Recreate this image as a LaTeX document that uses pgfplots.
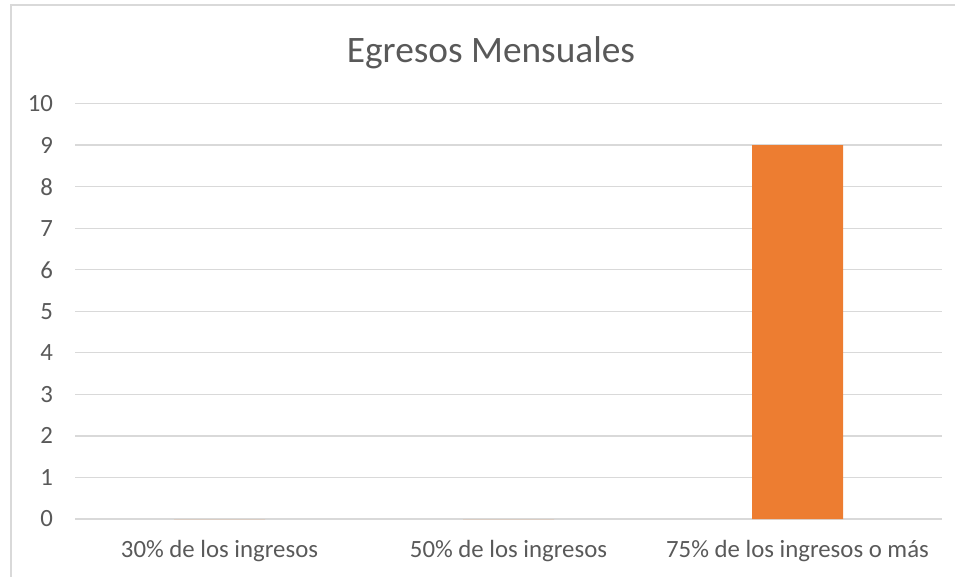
\documentclass[border=0pt]{standalone}
\usepackage{pgfplots}
\pgfplotsset{compat=1.18}
\usepackage{fontspec}
\setmainfont{Carlito}
\definecolor{txtgray}{HTML}{595959}
\definecolor{gridgray}{HTML}{D9D9D9}
\definecolor{barorange}{HTML}{ED7D31}

\begin{document}
\begin{tikzpicture}
% 1 px of the reference = 0.75pt
\path[use as bounding box] (0pt,0pt) rectangle (719.25pt,-432.75pt);
\draw[gridgray,line width=0.9pt] (8.25pt,-432.75pt) -- (8.25pt,-3.75pt) -- (716.25pt,-3.75pt);
\node[anchor=base,text=txtgray,font=\fontsize{28}{34}\selectfont] at (368.25pt,-47.25pt) {Egresos Mensuales};
\begin{axis}[
  at={(56.25pt,-389.25pt)},anchor=south west,
  scale only axis,width=650.25pt,height=311.6pt,
  ybar,bar width=68.25pt,
  xmin=-0.5,xmax=2.5,ymin=0,ymax=10,
  xtick={0,1,2},
  xticklabels={30\% de los ingresos,50\% de los ingresos,75\% de los ingresos o más},
  ytick={0,1,...,10},
  axis line style={draw=none},
  major tick length=0pt,
  ymajorgrids=true,
  grid style={gridgray,line width=0.9pt},
  tick label style={text=txtgray,font=\fontsize{18.6}{22}\selectfont},
  /pgf/number format/assume math mode=true,
  yticklabel style={anchor=east},
  yticklabel shift=13pt,
  xticklabel shift=12.5pt,
]
\addplot[fill=barorange,draw=none] coordinates {(0,0) (1,0) (2,9)};
\end{axis}
\end{tikzpicture}
\end{document}
